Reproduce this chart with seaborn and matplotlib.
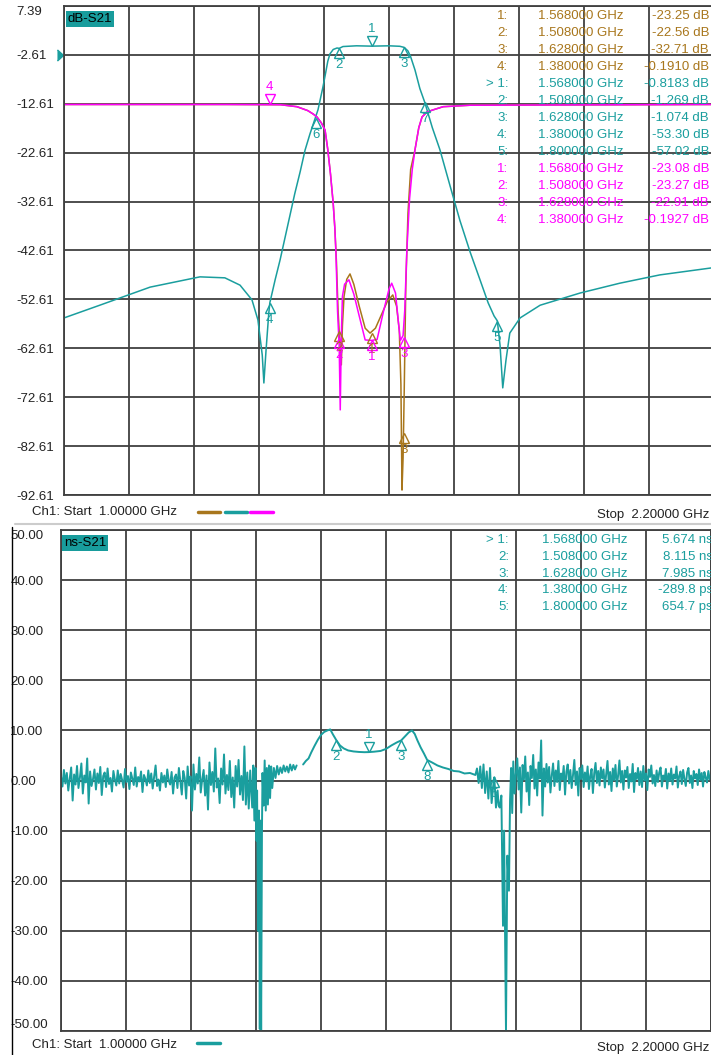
import numpy as np
import pandas as pd
import matplotlib
matplotlib.use('Agg')
import matplotlib.pyplot as plt
from matplotlib.transforms import offset_copy
import seaborn as sns

sns.set_theme(style='white')
plt.rcParams['font.family'] = ['Liberation Sans', 'DejaVu Sans']

# colours of the analyser traces
teal = '#1A9E9E'
brown = '#A8761C'
magenta = '#FF00FF'
grid_col = '#404040'

# ---------------- top panel: dB-S21 (display values) ----------------
s21_f = [1.000, 1.066, 1.159, 1.251, 1.297, 1.325, 1.347, 1.358, 1.366, 1.369, 1.373, 1.378,
         1.380, 1.390, 1.399, 1.408, 1.417, 1.426, 1.436, 1.445, 1.454, 1.463, 1.469, 1.478,
         1.483, 1.487, 1.491, 1.497, 1.504, 1.508, 1.515, 1.540, 1.568, 1.600, 1.620, 1.628,
         1.635, 1.640, 1.648, 1.657, 1.666, 1.680, 1.694, 1.713, 1.731, 1.750, 1.768, 1.783,
         1.794, 1.800, 1.805, 1.810, 1.816, 1.823, 1.842, 1.879, 1.953, 2.026, 2.100, 2.200]
s21_db = [-56.4, -53.8, -50.1, -48.0, -48.2, -49.7, -52.7, -56.8, -64.0, -69.7, -63.0, -55.5,
          -53.3, -48.5, -44.5, -40.0, -35.5, -31.0, -26.5, -22.1, -18.8, -15.8, -13.8, -9.2,
          -6.3, -3.9, -2.4, -1.5, -1.2, -1.27, -0.9, -0.75, -0.82, -0.75, -0.85, -1.07,
          -1.8, -3.0, -5.7, -9.5, -12.3, -17.5, -22.0, -29.5, -36.5, -43.0, -48.6, -53.3,
          -56.0, -57.0, -62.0, -70.7, -65.0, -59.5, -56.4, -53.8, -51.3, -49.3, -47.6, -46.1]

mag_f = [1.000, 1.300, 1.400, 1.430, 1.450, 1.460, 1.467, 1.475, 1.482, 1.487, 1.492, 1.497,
         1.500, 1.502, 1.505, 1.508, 1.510, 1.512, 1.514, 1.518, 1.526, 1.535, 1.545, 1.556,
         1.568, 1.578, 1.590, 1.600, 1.605, 1.612, 1.618, 1.621, 1.626, 1.629, 1.633, 1.638,
         1.643, 1.648, 1.655, 1.661, 1.670, 1.680, 1.700, 1.750, 2.200]
mag_db = [-12.75, -12.75, -12.8, -13.2, -14.0, -14.7, -15.3, -16.5, -18.0, -22.0, -27.0, -33.0,
          -38.0, -43.0, -55.0, -62.0, -75.2, -60.0, -52.0, -49.5, -48.6, -51.5, -56.0, -60.9,
          -61.0, -60.8, -55.0, -50.5, -49.3, -51.3, -58.0, -61.0, -60.0, -55.0, -42.5, -32.0,
          -26.0, -22.0, -17.5, -15.3, -14.3, -13.9, -13.2, -12.9, -12.75]

brn_f = [1.000, 1.300, 1.400, 1.430, 1.450, 1.460, 1.467, 1.475, 1.482, 1.487, 1.492, 1.497,
         1.500, 1.503, 1.506, 1.508, 1.510, 1.512, 1.514, 1.517, 1.522, 1.528, 1.535, 1.545,
         1.556, 1.565, 1.575, 1.585, 1.597, 1.607, 1.614, 1.619, 1.622, 1.624, 1.626, 1.628,
         1.631, 1.635, 1.640, 1.648, 1.655, 1.661, 1.670, 1.680, 1.700, 1.750, 2.200]
brn_db = [-12.75, -12.75, -12.8, -13.2, -14.0, -14.7, -15.3, -16.5, -18.0, -22.0, -27.0, -33.0,
          -38.0, -45.0, -55.0, -59.0, -62.0, -66.0, -58.0, -52.0, -48.5, -47.4, -49.5, -54.0,
          -58.5, -59.5, -58.5, -56.0, -53.0, -51.7, -54.0, -58.9, -70.0, -91.6, -85.0, -72.0,
          -50.0, -35.0, -26.0, -22.0, -17.5, -15.3, -14.3, -13.9, -13.2, -12.9, -12.75]

# markers drawn on the display: (freq, display value, label, pointing down?)
s21_mk = [(1.568, -0.82, '1', True), (1.508, -1.27, '2', False), (1.628, -1.07, '3', False),
          (1.380, -53.3, '4', False), (1.800, -57.0, '5', False), (1.465, -15.5, '6', False),
          (1.666, -12.3, '7', False)]
brn_mk = [(1.568, -59.5, '1', False), (1.508, -59.0, '2', False), (1.628, -79.9, '3', False)]
mag_mk = [(1.568, -61.0, '1', False), (1.508, -60.5, '2', False), (1.628, -60.3, '3', False),
          (1.380, -12.75, '4', True)]

top_ticks = [7.39, -2.61, -12.61, -22.61, -32.61, -42.61, -52.61, -62.61, -72.61, -82.61, -92.61]

top_tab_lab = ['1:', '2:', '3:', '4:', '> 1:', '2:', '3:', '4:', '5:', '1:', '2:', '3:', '4:']
top_tab_freq = ['1.568000 GHz', '1.508000 GHz', '1.628000 GHz', '1.380000 GHz',
                '1.568000 GHz', '1.508000 GHz', '1.628000 GHz', '1.380000 GHz', '1.800000 GHz',
                '1.568000 GHz', '1.508000 GHz', '1.628000 GHz', '1.380000 GHz']
top_tab_val = ['-23.25 dB', '-22.56 dB', '-32.71 dB', '-0.1910 dB',
               '-0.8183 dB', '-1.269 dB', '-1.074 dB', '-53.30 dB', '-57.02 dB',
               '-23.08 dB', '-23.27 dB', '-22.91 dB', '-0.1927 dB']
top_tab_col = [brown] * 4 + [teal] * 5 + [magenta] * 4

# ---------------- bottom panel: ns-S21 group delay ----------------
gd_left = [0.8, -1.2, 2.1, -0.6, 1.5, -2.0, 0.4, 2.6, -4.0, 1.2,
           -0.8, 2.9, -1.5, 0.6, 3.4, -2.6, 1.0, -0.4, 4.4, -4.6,
           1.8, -1.1, 0.3, 2.2, -1.8, 1.4, -0.5, 2.7, -2.9, 0.9,
           1.6, -1.3, 2.4, -0.7, 0.5, -2.2, 1.9, 0.2, -1.0, 2.0,
           -0.6, 1.3, 0.1, -1.4, 2.3, -0.3, 0.9, -1.7, 1.6, 0.4,
           -0.9, 2.6, -1.2, 0.7, -0.2, 1.8, -2.3, 1.1, 0.3, -1.0,
           2.0, -0.5, 1.4, -1.6, 0.8, 3.0, -1.1, 0.2, -2.0, 1.5,
           -0.4, 1.0, -1.3, 2.2, 0.0, -0.8, 1.7, -2.6, 0.6, 1.2,
           -1.5, 2.5, -0.2, -2.8, 1.9, 0.5, -3.6, 2.8, -1.0, 0.8,
           -6.0, 3.2, -1.8, 1.3, -0.6, 4.6, -2.4, 0.2, 2.1, -3.0,
           1.0, -5.8, 3.6, -0.9, 1.7, -2.2, 6.4, -1.4, 0.4, -4.5,
           2.4, -0.8, 5.2, -2.6, 1.1, -1.9, 3.9, -3.3, 0.6, -5.4,
           2.9, -1.2, 4.1, -2.8, 0.9, -3.9, 6.8, -4.8, 1.6, -5.6,
           2.0, -3.2]
gd_dip1_f = [1.353, 1.355, 1.357, 1.359, 1.361, 1.362, 1.364, 1.3655, 1.367, 1.368, 1.3695,
             1.371, 1.372, 1.374, 1.376, 1.378, 1.380, 1.382, 1.384, 1.386, 1.388, 1.390,
             1.393, 1.396, 1.399, 1.402, 1.405, 1.408, 1.411, 1.414, 1.417, 1.420, 1.423,
             1.426, 1.429, 1.432, 1.435]
gd_dip1 = [-5.4, 3.0, -8.0, 2.5, -12.0, -2.0, -30.0, -6.0, -49.6, -8.0, -50.0,
           -10.0, 1.5, -5.0, 4.0, -6.0, 2.5, -4.8, 3.0, -3.5, 2.8, -1.5,
           2.5, 0.5, 2.9, 1.2, 2.6, 1.5, 3.0, 1.8, 2.8, 1.6, 3.2,
           2.0, 3.1, 2.2, 3.0]
gd_pass_f = [1.447, 1.452, 1.457, 1.462, 1.468, 1.474, 1.480, 1.486, 1.492, 1.497, 1.502,
             1.508, 1.515, 1.522, 1.530, 1.540, 1.550, 1.560, 1.568, 1.578, 1.590, 1.600,
             1.610, 1.620, 1.628, 1.635, 1.642, 1.648, 1.653, 1.658, 1.664, 1.670, 1.676,
             1.685, 1.695, 1.705, 1.715, 1.725, 1.735, 1.745, 1.755, 1.765]
gd_pass = [3.2, 3.9, 4.4, 5.6, 6.9, 8.1, 9.1, 9.7, 10.0, 10.2, 9.2,
           8.1, 7.0, 6.4, 6.0, 5.8, 5.7, 5.65, 5.67, 5.75, 5.9, 6.3,
           7.0, 7.6, 8.0, 8.8, 9.6, 10.0, 9.3, 8.0, 6.6, 5.4, 4.1,
           3.6, 3.0, 2.6, 2.3, 1.9, 1.8, 1.4, 1.5, 1.1]
gd_dip2_f = [1.768, 1.771, 1.774, 1.777, 1.780, 1.783, 1.786, 1.789, 1.792, 1.795, 1.798,
             1.800, 1.803, 1.806, 1.808, 1.810, 1.813, 1.816, 1.818, 1.8215, 1.824, 1.827,
             1.829, 1.831, 1.833]
gd_dip2 = [2.4, -0.5, 2.8, -1.5, 3.2, -2.5, 1.8, -3.6, 2.5, -4.5, -1.0,
           0.65, -5.4, -2.0, -5.0, -5.4, -3.0, -29.0, -10.0, -50.0, -15.0, -22.0,
           -4.0, 2.5, -6.5]
gd_right = [3.8, -2.6, 1.5, 4.4, -1.8, 2.6, -6.4, 3.1, 0.2, 4.8, -2.2, 1.6, -4.9, 2.9,
            0.5, 5.1, -1.6, 2.2, -3.0, 3.6, 0.4, 8.0, -7.0, 2.4, -1.2, 3.3, -0.4,
            2.7, -2.4, 1.0, 3.4, -1.1, 2.0, -0.3, 3.9, -1.9, 1.4,
            0.2, 2.9, -2.8, 1.7, 3.2, -0.6, 2.1, -1.5, 1.1, 4.1,
            -0.9, 1.8, -3.0, 2.5, 0.3, 3.0, -1.3, 1.6, -0.2, 2.8,
            -1.7, 0.9, 2.3, -2.5, 1.5, 3.5, -0.5, 1.9, -1.0, 2.6, 0.4,
            2.2, -1.4, 1.2, 3.9, -0.8, 1.7, -2.1, 2.4, 0.1, 3.1,
            -1.2, 1.0, 4.0, -0.4, 1.9, -1.8, 2.0, 0.6, 2.7, -1.5,
            1.3, -0.2, 3.3, -2.3, 1.5, 0.3, 2.5, -0.9, 1.8, -1.3,
            2.9, 0.0, 1.4, -1.9, 2.2, 0.7, 3.0, -0.6, 1.1, -1.1, 2.0,
            -0.3, 1.6, 2.6, -1.2, 1.0, 0.2, 2.3, -1.6, 1.4, -0.1,
            2.4, -0.8, 1.2, 0.4, 2.8, -1.4, 0.9, 1.8, -0.7, 2.1,
            0.3, -1.1, 1.6, 2.5, -0.5, 1.0, -1.5, 1.9, 0.4, 1.3,
            -0.9, 2.2, 0.1, 1.5, -1.2, 1.7, 0.6, -0.4, 1.9, 0.2, 1.1]

gd_mk = [(1.568, 5.674, '1', True), (1.508, 8.115, '2', False), (1.628, 7.985, '3', False),
         (1.676, 4.1, '8', False), (1.800, 0.65, '5', False)]

bot_ticks = [50, 40, 30, 20, 10, 0, -10, -20, -30, -40, -50]
bot_tab_lab = ['> 1:', '2:', '3:', '4:', '5:']
bot_tab_freq = ['1.568000 GHz', '1.508000 GHz', '1.628000 GHz', '1.380000 GHz', '1.800000 GHz']
bot_tab_val = ['5.674 ns', '8.115 ns', '7.985 ns', '-289.8 ps', '654.7 ps']

freq_grid = [1.0 + 0.12 * k for k in range(11)]

W, H = 711, 1055
fig = plt.figure(figsize=(W / 100, H / 100), dpi=100)
fig.patch.set_facecolor('white')


def fx(px):
    return px / W


def fy(py):
    return 1 - py / H


ax1 = fig.add_axes([fx(64), fy(495), 650 / W, 489 / H])
ax2 = fig.add_axes([fx(61), fy(1031), 650 / W, 501 / H])

# traces
sns.lineplot(x=brn_f, y=brn_db, ax=ax1, color=brown, lw=1.1, sort=False, estimator=None)
sns.lineplot(x=s21_f, y=s21_db, ax=ax1, color=teal, lw=1.1, sort=False, estimator=None)
sns.lineplot(x=mag_f, y=mag_db, ax=ax1, color=magenta, lw=1.1, sort=False, estimator=None)

seg_a = pd.DataFrame({'f': list(np.linspace(1.0, 1.352, len(gd_left))) + gd_dip1_f,
                      'ns': gd_left + gd_dip1})
seg_b = pd.DataFrame({'f': gd_pass_f + gd_dip2_f + list(np.linspace(1.835, 2.2, len(gd_right))),
                      'ns': gd_pass + gd_dip2 + gd_right})
sns.lineplot(data=seg_a, x='f', y='ns', ax=ax2, color=teal, lw=1.4, sort=False, estimator=None)
sns.lineplot(data=seg_b, x='f', y='ns', ax=ax2, color=teal, lw=1.4, sort=False, estimator=None)

for ax, lo, hi, ticks, fmt, pad in [(ax1, -92.61, 7.39, top_ticks, '%.2f', 34.5),
                                     (ax2, -50, 50, bot_ticks, '%.2f', 36.5)]:
    ax.set_xlim(1.0, 2.2)
    ax.set_ylim(lo, hi)
    ax.set_xticks(freq_grid)
    ax.set_xticklabels([])
    ax.set_yticks(ticks)
    ax.set_yticklabels([fmt % t for t in ticks])
    ax.tick_params(axis='both', length=0)
    ax.tick_params(axis='y', pad=pad, labelsize=9.5, labelcolor='#222222')
    for lab in ax.get_yticklabels():
        lab.set_ha('left')
    ax.grid(True, color=grid_col, lw=1.3)
    ax.set_axisbelow(True)
    ax.set_xlabel('')
    ax.set_ylabel('')
    ax.set_facecolor('white')
    for sp in ax.spines.values():
        sp.set_color(grid_col)
        sp.set_linewidth(1.3)

ax1.get_yticklabels()[0].set_va('top')
ax1.get_yticklabels()[0].set_y(6.0)
ax2.get_yticklabels()[0].set_va('top')
ax2.get_yticklabels()[-1].set_va('bottom')


def draw_markers(ax, marks, color):
    for f, v, lab, down in marks:
        sgn = 1 if down else -1
        tri = offset_copy(ax.transData, fig=fig, x=0, y=sgn * 5, units='dots')
        txt = offset_copy(ax.transData, fig=fig, x=0, y=sgn * 17, units='dots')
        ax.plot([f], [v], marker='v' if down else '^', ms=6.5, mfc='none', mec=color,
                mew=1.0, transform=tri, clip_on=False)
        ax.text(f, v, lab, color=color, fontsize=9.5, ha='center', va='center', transform=txt)


draw_markers(ax1, brn_mk, brown)
draw_markers(ax1, s21_mk, teal)
draw_markers(ax1, mag_mk, magenta)
draw_markers(ax2, gd_mk, teal)

# reference level arrow
ref = offset_copy(ax1.transData, fig=fig, x=-4, y=0, units='dots')
ax1.plot([1.0], [-2.61], marker=[(-0.55, -1), (0.55, 0), (-0.55, 1)], ms=8, color=teal,
         transform=ref, clip_on=False)

# trace title boxes
fig.text(fx(68), fy(19), 'dB-S21', fontsize=9.5, color='black', va='center', ha='left',
         bbox=dict(boxstyle='square,pad=0.12', fc='#189C9C', ec='none'))
fig.text(fx(64), fy(543), 'ns-S21', fontsize=9.5, color='black', va='center', ha='left',
         bbox=dict(boxstyle='square,pad=0.12', fc='#189C9C', ec='none'))

# marker readout tables
for i in range(len(top_tab_lab)):
    yy = fy(15.7 + 17 * i)
    c = top_tab_col[i]
    fig.text(fx(508), yy, top_tab_lab[i], color=c, fontsize=9.5, ha='right', va='center')
    fig.text(fx(538), yy, top_tab_freq[i], color=c, fontsize=9.5, ha='left', va='center')
    fig.text(fx(709), yy, top_tab_val[i], color=c, fontsize=9.5, ha='right', va='center')
for i in range(len(bot_tab_lab)):
    yy = fy(540 + 16.8 * i)
    fig.text(fx(509), yy, bot_tab_lab[i], color=teal, fontsize=9.5, ha='right', va='center')
    fig.text(fx(542), yy, bot_tab_freq[i], color=teal, fontsize=9.5, ha='left', va='center')
    fig.text(fx(713), yy, bot_tab_val[i], color=teal, fontsize=9.5, ha='right', va='center')

# channel annotations
for ytxt in (512, 1045):
    fig.text(fx(32), fy(ytxt), 'Ch1: Start  1.00000 GHz', fontsize=9.5, color='#222222',
             ha='left', va='center')
    fig.text(fx(709), fy(ytxt + 3), 'Stop  2.20000 GHz', fontsize=9.5, color='#222222',
             ha='right', va='center')
for x0, x1, c in [(198, 220, brown), (225, 247, teal), (250, 273, magenta)]:
    fig.add_artist(plt.Line2D([fx(x0), fx(x1)], [fy(512), fy(512)], color=c, lw=2.5))
fig.add_artist(plt.Line2D([fx(197), fx(220)], [fy(1043), fy(1043)], color=teal, lw=2.5))

# separator and window edge
fig.add_artist(plt.Line2D([fx(15), fx(711)], [fy(524), fy(524)], color='#CCCCCC', lw=1.5))
fig.add_artist(plt.Line2D([fx(12), fx(12)], [fy(527), fy(1055)], color='black', lw=1.0))

fig.savefig('out.png', dpi=100, facecolor='white')
